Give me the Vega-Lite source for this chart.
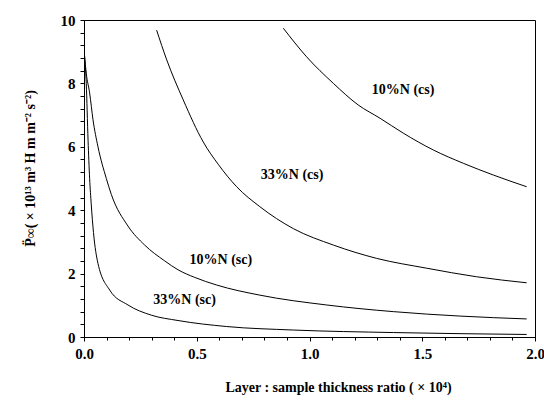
{
  "$schema": "https://vega.github.io/schema/vega-lite/v6.json",
  "width": 451,
  "height": 317,
  "autosize": {"type": "none"},
  "padding": {"left": 84, "top": 20, "right": 9, "bottom": 64},
  "background": "white",
  "config": {
    "font": "Liberation Serif",
    "view": {"stroke": "black", "strokeWidth": 1}
  },
  "resolve": {"axis": {"x": "independent", "y": "independent"}},
  "datasets": {
    "curves": [
      {"series": "10cs", "x": 0.884, "y": 9.74},
      {"series": "10cs", "x": 0.987, "y": 8.84},
      {"series": "10cs", "x": 1.106, "y": 8.0},
      {"series": "10cs", "x": 1.216, "y": 7.32},
      {"series": "10cs", "x": 1.313, "y": 6.9},
      {"series": "10cs", "x": 1.416, "y": 6.43},
      {"series": "10cs", "x": 1.549, "y": 5.9},
      {"series": "10cs", "x": 1.682, "y": 5.48},
      {"series": "10cs", "x": 1.815, "y": 5.11},
      {"series": "10cs", "x": 1.963, "y": 4.74},
      {"series": "33cs", "x": 0.322, "y": 9.68},
      {"series": "33cs", "x": 0.367, "y": 8.74},
      {"series": "33cs", "x": 0.44, "y": 7.48},
      {"series": "33cs", "x": 0.529, "y": 6.15},
      {"series": "33cs", "x": 0.595, "y": 5.45},
      {"series": "33cs", "x": 0.677, "y": 4.74},
      {"series": "33cs", "x": 0.78, "y": 4.11},
      {"series": "33cs", "x": 0.928, "y": 3.42},
      {"series": "33cs", "x": 1.106, "y": 2.9},
      {"series": "33cs", "x": 1.298, "y": 2.48},
      {"series": "33cs", "x": 1.52, "y": 2.17},
      {"series": "33cs", "x": 1.741, "y": 1.9},
      {"series": "33cs", "x": 1.963, "y": 1.71},
      {"series": "10sc", "x": 0.002, "y": 8.9},
      {"series": "10sc", "x": 0.01, "y": 8.32},
      {"series": "10sc", "x": 0.025, "y": 7.7},
      {"series": "10sc", "x": 0.04, "y": 6.85},
      {"series": "10sc", "x": 0.062, "y": 6.0},
      {"series": "10sc", "x": 0.099, "y": 5.0},
      {"series": "10sc", "x": 0.121, "y": 4.5},
      {"series": "10sc", "x": 0.195, "y": 3.5},
      {"series": "10sc", "x": 0.269, "y": 2.9},
      {"series": "10sc", "x": 0.358, "y": 2.4},
      {"series": "10sc", "x": 0.417, "y": 2.12},
      {"series": "10sc", "x": 0.491, "y": 1.88},
      {"series": "10sc", "x": 0.588, "y": 1.64},
      {"series": "10sc", "x": 0.78, "y": 1.32},
      {"series": "10sc", "x": 1.076, "y": 1.01},
      {"series": "10sc", "x": 1.372, "y": 0.8},
      {"series": "10sc", "x": 1.667, "y": 0.66},
      {"series": "10sc", "x": 1.963, "y": 0.57},
      {"series": "33sc", "x": 0.002, "y": 8.9},
      {"series": "33sc", "x": 0.01, "y": 8.0},
      {"series": "33sc", "x": 0.018, "y": 6.21},
      {"series": "33sc", "x": 0.025, "y": 5.0},
      {"series": "33sc", "x": 0.032, "y": 4.2},
      {"series": "33sc", "x": 0.042, "y": 3.3},
      {"series": "33sc", "x": 0.062, "y": 2.32},
      {"series": "33sc", "x": 0.114, "y": 1.48},
      {"series": "33sc", "x": 0.195, "y": 1.01},
      {"series": "33sc", "x": 0.298, "y": 0.69},
      {"series": "33sc", "x": 0.417, "y": 0.52},
      {"series": "33sc", "x": 0.633, "y": 0.33},
      {"series": "33sc", "x": 0.928, "y": 0.22},
      {"series": "33sc", "x": 1.372, "y": 0.14},
      {"series": "33sc", "x": 1.963, "y": 0.08}
    ],
    "labels": [
      {"label": "10%N (cs)", "x": 1.415, "y": 7.79},
      {"label": "33%N (cs)", "x": 0.923, "y": 5.11},
      {"label": "10%N (sc)", "x": 0.607, "y": 2.43},
      {"label": "33%N (sc)", "x": 0.446, "y": 1.18}
    ]
  },
  "layer": [
    {
      "data": {"name": "curves"},
      "mark": {"type": "line", "color": "black", "strokeWidth": 1, "interpolate": "monotone"},
      "encoding": {
        "x": {
          "field": "x", "type": "quantitative",
          "scale": {"domain": [0, 2], "nice": false},
          "axis": {
            "orient": "bottom",
            "title": "Layer : sample thickness ratio ( × 10⁴)",
            "values": [0, 0.5, 1.0, 1.5, 2.0],
            "format": ".1f",
            "grid": false,
            "domainColor": "black",
            "tickColor": "black",
            "tickSize": 4,
            "labelOverlap": false,
            "labelFlush": false,
            "labelFont": "Liberation Serif",
            "labelFontWeight": "bold",
            "labelFontSize": 15,
            "labelColor": "black",
            "labelPadding": 5,
            "titleFont": "Liberation Serif",
            "titleFontWeight": "bold",
            "titleFontSize": 14,
            "titleColor": "black",
            "titleX": 254,
            "titleY": 50,
            "titleBaseline": "middle"
          }
        },
        "y": {
          "field": "y", "type": "quantitative",
          "scale": {"domain": [0, 10], "nice": false},
          "axis": {
            "orient": "left",
            "title": "P̈∞( × 10¹³ m³ H m m⁻² s⁻²)",
            "values": [0, 2, 4, 6, 8, 10],
            "grid": false,
            "domainColor": "black",
            "tickColor": "black",
            "tickSize": 4,
            "labelOverlap": false,
            "labelFlush": false,
            "labelFont": "Liberation Serif",
            "labelFontWeight": "bold",
            "labelFontSize": 15,
            "labelColor": "black",
            "labelPadding": 5,
            "titleFont": "Liberation Serif",
            "titleFontWeight": "bold",
            "titleFontSize": 14,
            "titleColor": "black",
            "titleX": -54,
            "titleY": 148,
            "titleBaseline": "middle"
          }
        },
        "detail": {"field": "series"}
      }
    },
    {
      "data": {"name": "labels"},
      "mark": {"type": "text", "font": "Liberation Serif", "fontWeight": "bold", "fontSize": 14, "color": "black", "align": "center", "baseline": "middle"},
      "encoding": {
        "x": {
          "field": "x", "type": "quantitative",
          "scale": {"domain": [0, 2], "nice": false},
          "axis": {
            "orient": "bottom",
            "title": null,
            "labels": false,
            "domain": false,
            "grid": false,
            "ticks": true,
            "tickColor": "black",
            "tickSize": 3,
            "values": [0.1, 0.2, 0.3, 0.4, 0.6, 0.7, 0.8, 0.9, 1.1, 1.2, 1.3, 1.4, 1.6, 1.7, 1.8, 1.9]
          }
        },
        "y": {
          "field": "y", "type": "quantitative",
          "scale": {"domain": [0, 10], "nice": false},
          "axis": {
            "orient": "left",
            "title": null,
            "labels": false,
            "domain": false,
            "grid": false,
            "ticks": true,
            "tickColor": "black",
            "tickSize": 4,
            "values": [0.4, 0.8, 1.2, 1.6, 2.4, 2.8, 3.2, 3.6, 4.4, 4.8, 5.2, 5.6, 6.4, 6.8, 7.2, 7.6, 8.4, 8.8, 9.2, 9.6]
          }
        },
        "text": {"field": "label"}
      }
    }
  ]
}
